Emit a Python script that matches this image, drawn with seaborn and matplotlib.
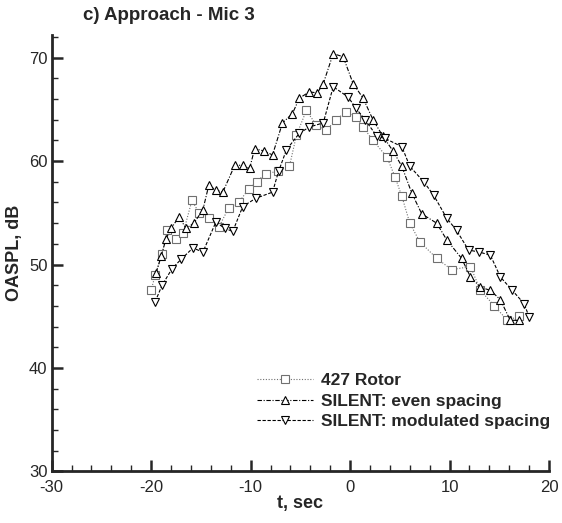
import matplotlib
matplotlib.use("Agg")
import matplotlib.pyplot as plt
import seaborn as sns
import pandas as pd
from matplotlib.ticker import MultipleLocator

# 427 Rotor (squares, dotted)
t_rotor = [-20.0, -19.6, -18.9, -18.4, -17.5, -16.8, -15.9, -15.2, -14.2, -13.2, -12.2,
           -11.2, -10.2, -9.4, -8.5, -7.3, -6.1, -5.4, -4.4, -3.4, -2.4, -1.4, -0.4,
           0.6, 1.3, 2.3, 3.7, 4.5, 5.2, 6.0, 7.0, 8.7, 10.2, 12.1, 13.1, 14.5, 15.8, 17.0]
db_rotor = [47.5, 49.0, 51.0, 53.3, 52.5, 53.0, 56.2, 55.0, 54.5, 53.6, 55.5,
            56.0, 57.3, 58.0, 58.8, 59.0, 59.5, 62.5, 64.9, 63.5, 63.0, 64.0, 64.8,
            64.3, 63.3, 62.0, 60.4, 58.5, 56.6, 54.0, 52.2, 50.6, 49.5, 49.8, 47.5, 46.0, 44.6, 45.0]

# SILENT: even spacing (up triangles, dash-dot)
t_even = [-19.5, -19.0, -18.5, -18.0, -17.2, -16.5, -15.7, -14.8, -14.2, -13.5, -12.8,
          -11.6, -10.8, -10.1, -9.6, -8.7, -7.8, -6.8, -5.8, -5.1, -4.1, -3.3, -2.7,
          -1.7, -0.7, 0.3, 1.3, 2.3, 3.3, 4.3, 5.2, 6.2, 7.2, 8.7, 9.7, 11.2, 12.1,
          13.1, 14.1, 15.1, 16.1, 17.0]
db_even = [49.2, 50.8, 52.5, 53.5, 54.6, 53.5, 54.0, 55.3, 57.7, 57.2, 57.0,
           59.6, 59.6, 59.3, 61.2, 61.0, 60.6, 63.7, 64.6, 66.1, 66.7, 66.6, 67.5,
           70.4, 70.1, 67.5, 66.1, 64.0, 62.4, 61.0, 59.5, 56.9, 54.9, 54.0, 52.4, 50.6, 48.8,
           47.8, 47.5, 46.6, 44.6, 44.6]

# SILENT: modulated spacing (down triangles, dashed)
t_mod = [-19.6, -18.9, -17.9, -17.0, -15.8, -14.8, -13.5, -12.6, -11.8, -10.8, -9.5,
         -7.8, -7.2, -6.4, -5.1, -4.1, -2.7, -1.7, -0.2, 0.6, 1.5, 2.7, 3.5, 5.2, 6.0,
         7.4, 8.4, 9.7, 10.7, 11.9, 13.0, 14.1, 15.1, 16.3, 17.5, 18.0]
db_mod = [46.4, 48.0, 49.6, 50.5, 51.6, 51.2, 54.1, 53.5, 53.2, 55.6, 56.4,
          57.0, 59.0, 61.1, 62.7, 63.3, 63.7, 67.2, 66.2, 65.1, 64.0, 62.4, 62.2, 61.4, 59.5,
          58.0, 56.7, 54.5, 53.3, 51.4, 51.2, 50.9, 48.8, 47.5, 46.2, 44.9]

labels = ["427 Rotor", "SILENT: even spacing", "SILENT: modulated spacing"]

sns.set_style("ticks")
plt.rcParams['font.family'] = ['Liberation Sans', 'DejaVu Sans']
plt.rcParams['axes.unicode_minus'] = False

fig = plt.figure(figsize=(5.62, 5.23), dpi=100)
ax = fig.add_axes([0.092, 0.099, 0.885, 0.834])

series = [
    (t_rotor, db_rotor, labels[0], "s", (0, (1, 1.5)), "#707070"),
    (t_even, db_even, labels[1], "^", (0, (4, 1.5, 1, 1.5)), "black"),
    (t_mod, db_mod, labels[2], "v", (0, (3, 1.5)), "black"),
]
for t, db, lab, mk, ls, col in series:
    df = pd.DataFrame({"t": t, "db": db})
    sns.lineplot(data=df, x="t", y="db", ax=ax, sort=False, label=lab,
                 color=col, linestyle=ls, linewidth=0.8, marker=mk,
                 markersize=6, markerfacecolor="white", markeredgecolor=col,
                 markeredgewidth=0.8)

ax.set_xlim(-30, 20)
ax.set_ylim(30, 72.2)
ax.xaxis.set_major_locator(MultipleLocator(10))
ax.xaxis.set_minor_locator(MultipleLocator(2))
ax.yaxis.set_major_locator(MultipleLocator(10))
ax.yaxis.set_minor_locator(MultipleLocator(2))
ax.tick_params(which="major", direction="in", length=8, width=1.8, labelsize=12)
ax.tick_params(axis="x", which="major", pad=6)
ax.tick_params(axis="y", which="major", pad=3)
ax.tick_params(which="minor", direction="in", length=4, width=1)
sns.despine(ax=ax)
for s in ["left", "bottom"]:
    ax.spines[s].set_linewidth(2)

ax.set_xlabel("t, sec", fontsize=13, fontweight="bold", labelpad=0)
ax.set_ylabel("OASPL, dB", fontsize=13, fontweight="bold", labelpad=4)
fig.text(0.148, 0.962, "c) Approach - Mic 3", fontsize=13.5, fontweight="bold")

ax.legend(loc="lower right", bbox_to_anchor=(1.017, 0.081), borderaxespad=0,
          frameon=False, handlelength=3.2, numpoints=1,
          prop={"weight": "bold", "size": 12.5}, handletextpad=0.5, labelspacing=0.3)

fig.savefig("out.png", dpi=100)
